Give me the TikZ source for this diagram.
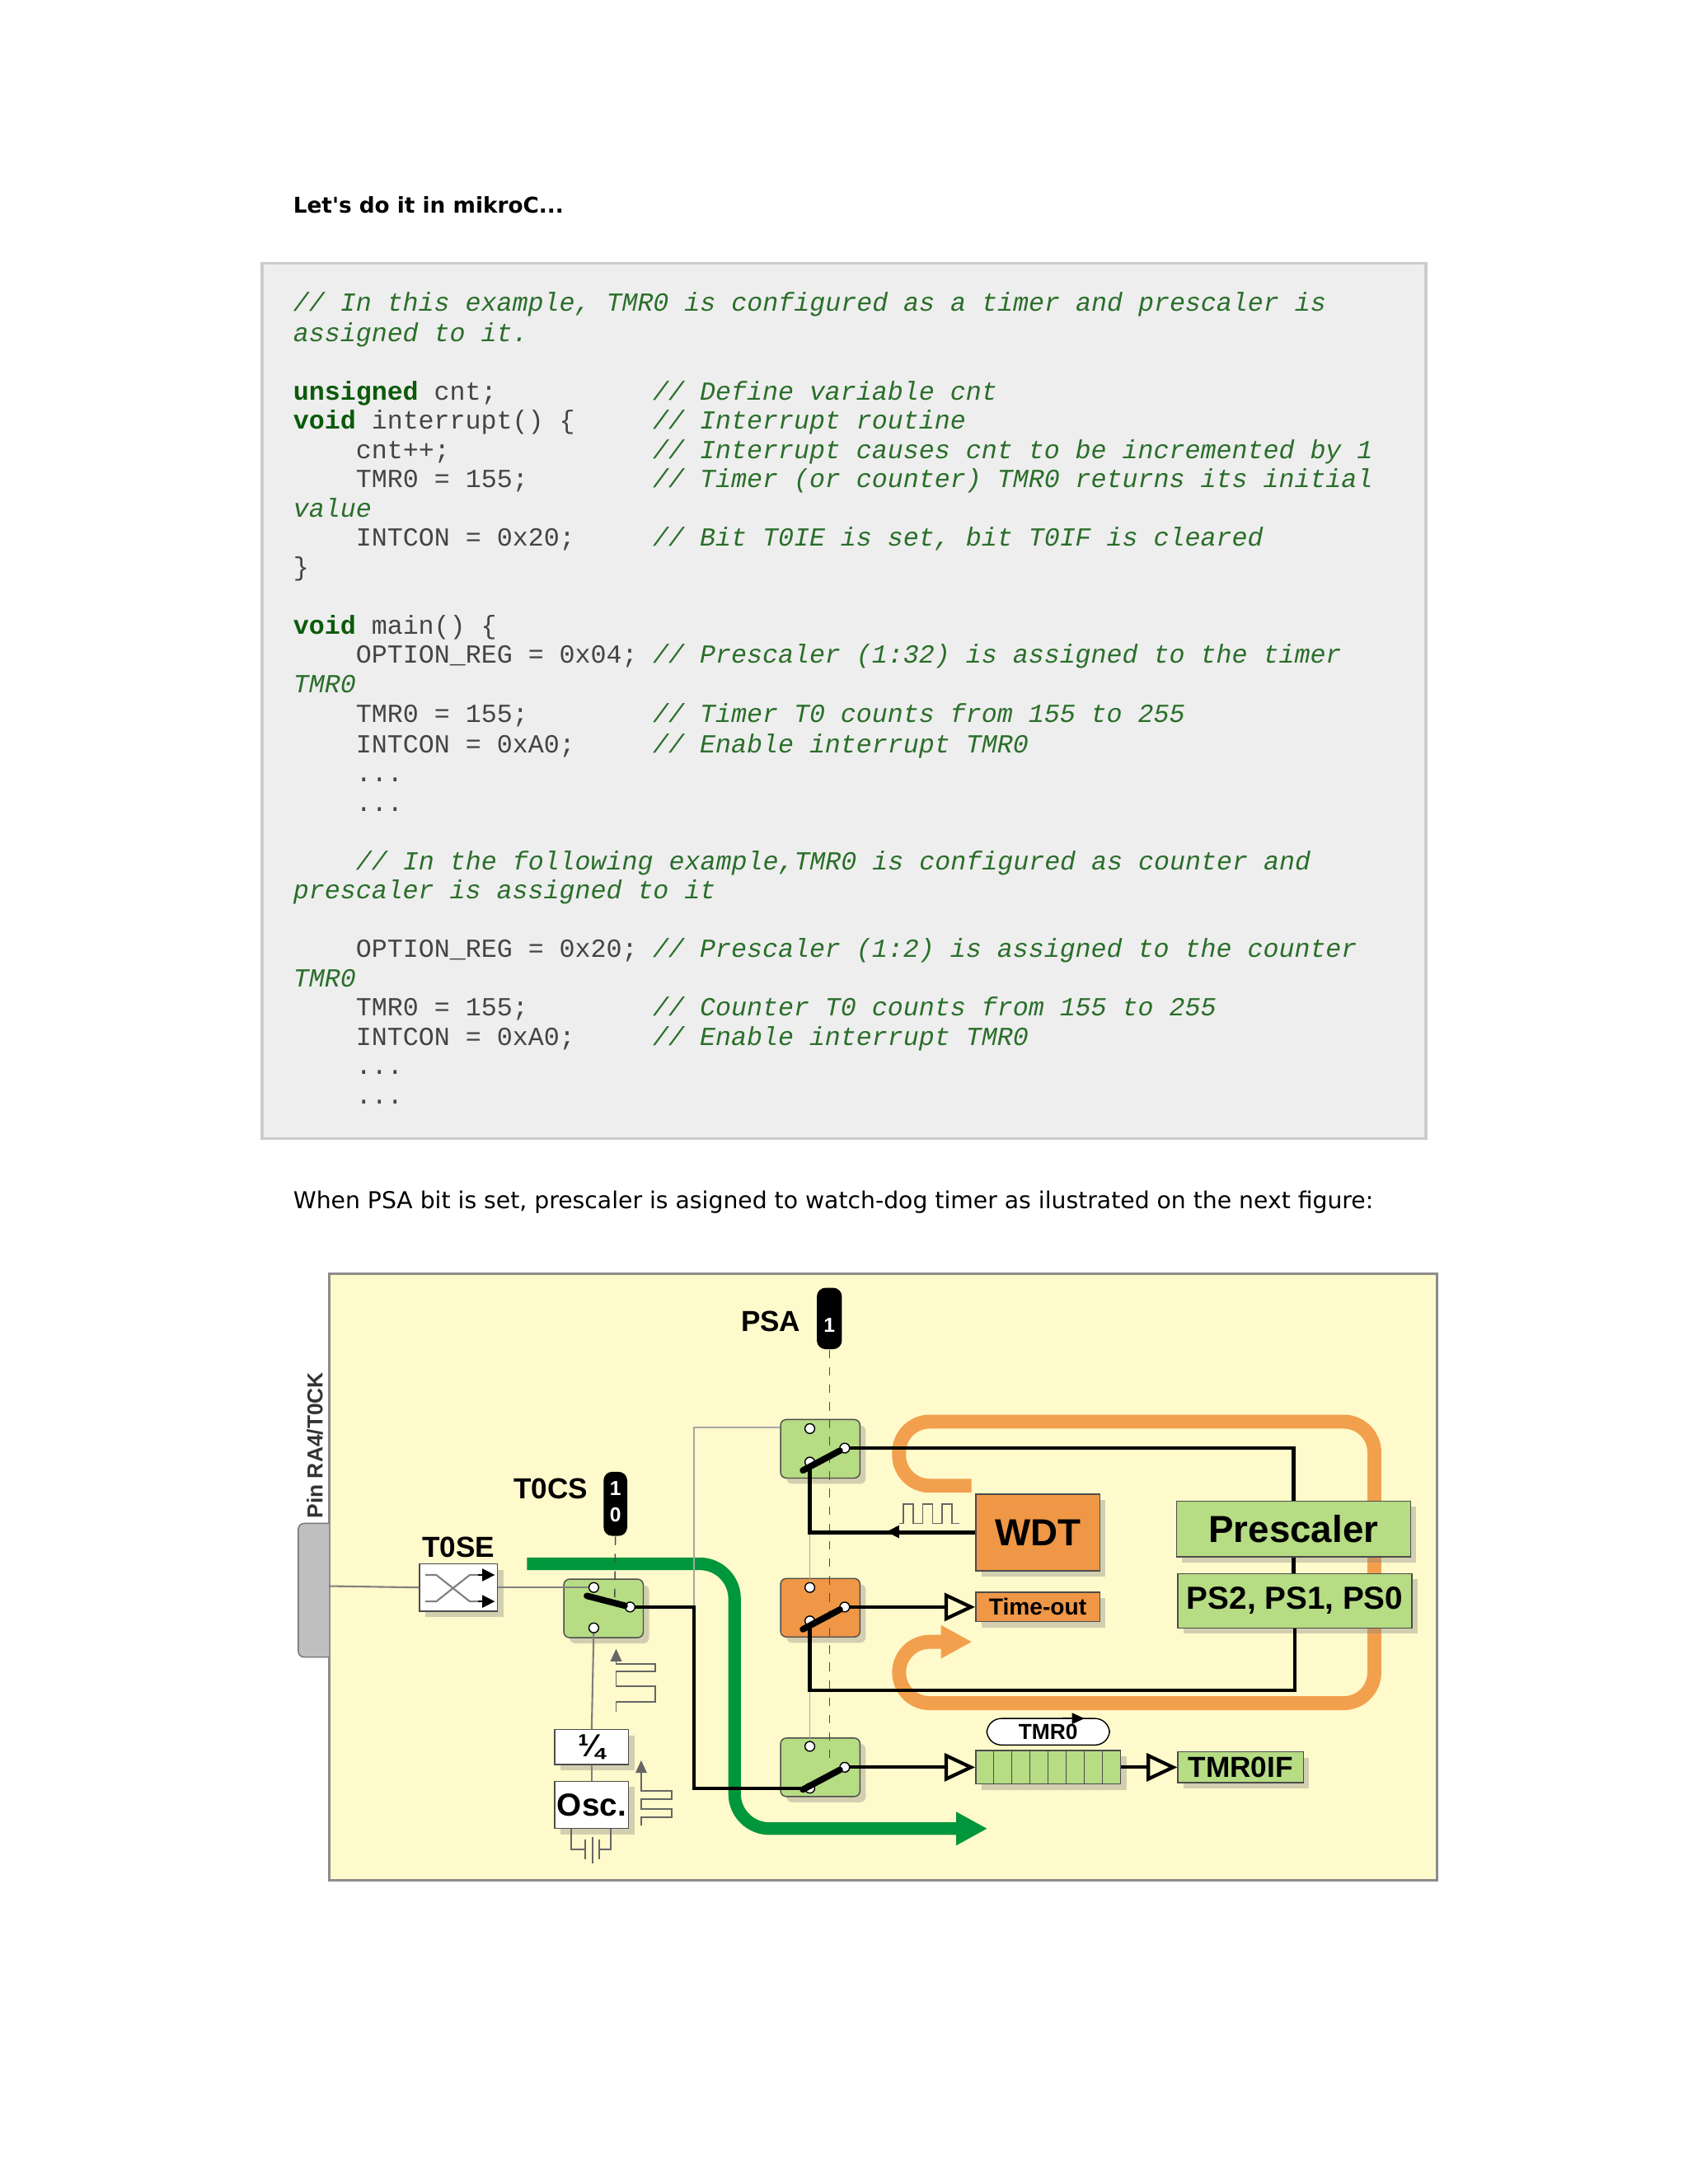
\documentclass[tikz,border=0pt]{standalone}
\usepackage{fontspec}
\usepackage{graphicx}
\usetikzlibrary{arrows.meta, positioning, shadows}
\newfontfamily\pagefont{DejaVu Sans}
\newfontfamily\diafont{Liberation Sans}
\newfontfamily\codefont{Liberation Mono}
\newcommand{\dpx}{0.016911cm}
\definecolor{codebg}{HTML}{EEEEEE}
\definecolor{cmtgreen}{HTML}{2A6E2A}
\definecolor{kwgreen}{HTML}{0A5A0A}
\definecolor{codegray}{HTML}{444444}
\definecolor{diabg}{HTML}{FFFACB}
\definecolor{boxgreen}{HTML}{B6DC84}
\definecolor{boxorange}{HTML}{EF9746}
\definecolor{flowgreen}{HTML}{00963C}
\definecolor{floworange}{HTML}{F2A04E}
\newcommand{\cmt}[1]{{\color{cmtgreen}\itshape #1}}
\newcommand{\kw}[1]{{\color{kwgreen}\bfseries #1}}
\tikzstyle{code} = [% one piece of a code line
  anchor=base west,
  inner sep=0pt,
  font=\codefont\fontsize{9}{10}\selectfont,
  text=codegray
  ]
\tikzstyle{block} = [% boxes of the diagram
  rectangle,
  draw=black!70,
  inner sep=0pt,
  font=\diafont\bfseries,
  drop shadow={shadow xshift=2pt, shadow yshift=-2pt, opacity=.35}
  ]
\tikzstyle{switch} = [% a selector switch
  block,
  rounded corners=2pt,
  minimum width=57*\dpx,
  minimum height=42*\dpx
  ]
\tikzstyle{contact} = [% switch contact
  circle,
  draw=black,
  fill=white,
  inner sep=0pt,
  minimum size=7*\dpx
  ]
\tikzstyle{pill} = [% control bit
  rectangle,
  rounded corners=3pt,
  fill=black,
  text=white,
  inner sep=0pt,
  font=\diafont\bfseries\fontsize{7}{8}\selectfont
  ]
\tikzstyle{label} = [% bit names
  font=\diafont\bfseries\fontsize{10}{12}\selectfont,
  inner sep=0pt
  ]
\tikzstyle{wire} = [% signal lines
  line width=1.2pt,
  black
  ]
\tikzstyle{thin} = [% unselected paths
  line width=0.5pt,
  black!35
  ]
\tikzstyle{buffer} = [% open triangle arrow
  wire,
  -{Triangle[open, length=22*\dpx, width=20*\dpx, line width=1.2pt]}
  ]

\begin{document}
\begin{tikzpicture}[x=\dpx, y=-\dpx]
\useasboundingbox[fill=white] (0,0) rectangle (1211,1567);

%%% Page text
\node[anchor=base west, inner sep=0pt] (title) at (210,153)
  {\resizebox{3.28cm}{!}{\pagefont\bfseries Let's do it in mikroC...}};
\node[anchor=base west, inner sep=0pt] (intro) at (210,867)
  {\resizebox{13.1cm}{!}{\pagefont When PSA bit is set, prescaler is asigned to watch-dog timer as ilustrated on the next figure:}};

%%% Code listing
\draw[fill=codebg, draw=black!20, line width=1pt] (188,189) rectangle (1023,817);
\node[code] (l1) at (210,223) {\cmt{// In this example, TMR0 is configured as a timer and prescaler is}};
\node[code] (l2) at (210,245) {\cmt{assigned to it.}};
\node[code] (l3) at (210,287) {\kw{unsigned} cnt;};
\node[code] (c3) at (468,287) {\cmt{// Define variable cnt}};
\node[code] (l4) at (210,308) {\kw{void} interrupt() \{};
\node[code] (c4) at (468,308) {\cmt{// Interrupt routine}};
\node[code] (l5) at (255,329) {cnt++;};
\node[code] (c5) at (468,329) {\cmt{// Interrupt causes cnt to be incremented by 1}};
\node[code] (l6) at (255,350) {TMR0 = 155;};
\node[code] (c6) at (468,350) {\cmt{// Timer (or counter) TMR0 returns its initial}};
\node[code] (l7) at (210,371) {\cmt{value}};
\node[code] (l8) at (255,392) {INTCON = 0x20;};
\node[code] (c8) at (468,392) {\cmt{// Bit T0IE is set, bit T0IF is cleared}};
\node[code] (l9) at (210,413) {\}};
\node[code] (l10) at (210,455) {\kw{void} main() \{};
\node[code] (l11) at (255,476) {OPTION\_REG = 0x04;};
\node[code] (c11) at (468,476) {\cmt{// Prescaler (1:32) is assigned to the timer}};
\node[code] (l12) at (210,497) {\cmt{TMR0}};
\node[code] (l13) at (255,518) {TMR0 = 155;};
\node[code] (c13) at (468,518) {\cmt{// Timer T0 counts from 155 to 255}};
\node[code] (l14) at (255,540) {INTCON = 0xA0;};
\node[code] (c14) at (468,540) {\cmt{// Enable interrupt TMR0}};
\node[code] (l15) at (255,561) {...};
\node[code] (l16) at (255,582) {...};
\node[code] (l17) at (255,624) {\cmt{// In the following example,TMR0 is configured as counter and}};
\node[code] (l18) at (210,645) {\cmt{prescaler is assigned to it}};
\node[code] (l19) at (255,687) {OPTION\_REG = 0x20;};
\node[code] (c19) at (468,687) {\cmt{// Prescaler (1:2) is assigned to the counter}};
\node[code] (l20) at (210,708) {\cmt{TMR0}};
\node[code] (l21) at (255,729) {TMR0 = 155;};
\node[code] (c21) at (468,729) {\cmt{// Counter T0 counts from 155 to 255}};
\node[code] (l22) at (255,750) {INTCON = 0xA0;};
\node[code] (c22) at (468,750) {\cmt{// Enable interrupt TMR0}};
\node[code] (l23) at (255,771) {...};
\node[code] (l24) at (255,792) {...};

%%% Diagram frame and pin
\draw[fill=diabg, draw=black!45, line width=0.8pt] (236,914) rectangle (1031,1349);
\draw[fill=black!25, draw=black!55, rounded corners=2pt] (236,1093) -- (214,1093) -- (214,1189) -- (236,1189);
\node[rotate=90, font=\diafont\bfseries\fontsize{7.5}{9}\selectfont, text=black!80, inner sep=0pt] (pin) at (226,1037) {Pin RA4/T0CK};
\coordinate (pinout) at (236,1138);

%%% Flow paths
\draw[floworange, line width=10*\dpx, rounded corners=22*\dpx] (697,1066) -- (645,1066) -- (645,1020) -- (986,1020) -- (986,1222) -- (645,1222) -- (645,1178) -- (677,1178);
\draw[floworange, -{Triangle[length=22*\dpx, width=24*\dpx]}] (675,1178) -- (697,1178);
\draw[flowgreen, line width=9*\dpx, rounded corners=25*\dpx] (378,1122) -- (527,1122) -- (527,1312) -- (688,1312);
\draw[flowgreen, -{Triangle[length=22*\dpx, width=24*\dpx]}] (686,1312) -- (708,1312);

%%% Nodes
\node[block, fill=white, minimum width=56*\dpx, minimum height=34*\dpx] (tose) at (329,1139) {};
\node[label] (toselbl) at (329,1110) {T0SE};
\node[switch, fill=boxgreen] (swT) at (433,1154) {};
\node[label] (tocslbl) at (395,1068) {T0CS};
\node[pill, minimum width=17*\dpx, minimum height=46*\dpx] (tocsbit) at (441.5,1079) {};
\node[text=white, font=\diafont\bfseries\fontsize{7}{8}\selectfont, inner sep=0pt] at (441.5,1068) {1};
\node[text=white, font=\diafont\bfseries\fontsize{7}{8}\selectfont, inner sep=0pt] at (441.5,1087) {0};
\node[block, fill=white, minimum width=53*\dpx, minimum height=25*\dpx, font=\diafont\bfseries\fontsize{11}{12}\selectfont] (quarter) at (424.5,1253.5) {¼};
\node[block, fill=white, minimum width=53*\dpx, minimum height=34*\dpx, font=\diafont\bfseries\fontsize{11}{12}\selectfont] (osc) at (424.5,1295) {Osc.};

\node[switch, fill=boxgreen] (swW) at (588.5,1039.5) {};
\node[switch, fill=boxorange] (swO) at (588.5,1153.5) {};
\node[switch, fill=boxgreen] (swR) at (588.5,1268) {};
\node[label] (psalbl) at (553,948) {PSA};
\node[pill, minimum width=18*\dpx, minimum height=44*\dpx] (psabit) at (595,946) {};
\node[text=white, font=\diafont\bfseries\fontsize{7}{8}\selectfont, inner sep=0pt] at (595,951) {1};

\node[block, fill=boxorange, minimum width=89*\dpx, minimum height=55*\dpx, font=\diafont\bfseries\fontsize{13}{14}\selectfont] (wdt) at (744.5,1099.5) {WDT};
\node[block, fill=boxorange, minimum width=89*\dpx, minimum height=21*\dpx, font=\diafont\bfseries\fontsize{8}{9}\selectfont] (tmo) at (744.5,1153) {Time-out};
\node[block, fill=boxgreen, minimum width=168*\dpx, minimum height=40*\dpx, font=\diafont\bfseries\fontsize{13}{14}\selectfont] (presc) at (928,1097) {Prescaler};
\node[block, fill=boxgreen, minimum width=168*\dpx, minimum height=39*\dpx, font=\diafont\bfseries\fontsize{11}{12}\selectfont] (psbits) at (929,1148.5) {PS2, PS1, PS0};
\node[block, fill=boxgreen, minimum width=104*\dpx, minimum height=24*\dpx] (tmr) at (752,1268) {};
\foreach \i in {1,...,7} \draw[black!70] ({700+13*\i},1256) -- ({700+13*\i},1280);
\node[draw=black, fill=white, rounded corners=5pt, minimum width=88*\dpx, minimum height=19*\dpx, inner sep=0pt, font=\diafont\bfseries\fontsize{7.5}{8}\selectfont] (tmrlbl) at (752,1242.5) {TMR0};
\node[block, fill=boxgreen, minimum width=90*\dpx, minimum height=22*\dpx, font=\diafont\bfseries\fontsize{10}{11}\selectfont] (tmrif) at (890,1268) {TMR0IF};

%%% Contacts
\node[contact] (swTa) at (426,1139) {};
\node[contact] (swTb) at (426,1168) {};
\node[contact] (swTo) at (452,1153) {};
\node[contact] (swWa) at (581,1025) {};
\node[contact] (swWb) at (581,1049) {};
\node[contact] (swWo) at (606,1039) {};
\node[contact] (swOa) at (581,1139) {};
\node[contact] (swOb) at (581,1163) {};
\node[contact] (swOo) at (606,1153) {};
\node[contact] (swRa) at (581,1253) {};
\node[contact] (swRb) at (581,1283) {};
\node[contact] (swRo) at (606,1268) {};

%%% Selector dashes
\draw[black!70, dashed] (tocsbit.south) -- (441,1150);
\draw[black!70, dashed] (psabit.south) -- (595,1262);

%%% Thin lines
\draw[black!50, line width=0.6pt] (pinout) -- (tose.west);
\draw[black!50, line width=0.6pt] (tose.east) -- (swTa);
\draw[black!50, line width=0.6pt] (swTb) -- (quarter.north);
\draw[black!50, line width=0.6pt] (quarter.south) -- (osc.north);
\draw[thin] (498,1153) -- (498,1024) -- (swW.west |- 498,1024);
\draw[thin] (581,1099) -- (swOa);
\draw[thin] (581,1213) -- (swRa);

%%% Levers
\draw[line width=2.2pt, line cap=round] (421,1145) -- (swTo);
\draw[line width=2.2pt, line cap=round] (576,1055) -- (swWo);
\draw[line width=2.2pt, line cap=round] (576,1169) -- (swOo);
\draw[line width=2.2pt, line cap=round] (576,1284) -- (swRo);

%%% Wires
\draw[wire] (swTo) -- (498,1153) -- (498,1283) -- (swRb);
\draw[wire] (swWo) -| (presc.north);
\draw[wire] (presc.south) -- (psbits.north -| presc.south);
\draw[wire] (swWb) |- (wdt.west);
\draw[wire] (swOb) -- (581,1213) -| (psbits.south);
\draw[buffer] (swOo) -- (tmo.west);
\draw[buffer] (swRo) -- (tmr.west);
\draw[buffer] (tmr.east) -- (tmrif.west);
\draw[-{Triangle[length=9*\dpx, width=9*\dpx]}] (648,1099) -- (636,1099);
\draw[-{Triangle[length=9*\dpx, width=8*\dpx]}] (762,1233) -- (778,1233);

%%% Waveforms and symbols
\draw[black!60, line width=0.5pt] (645,1093) -- (648,1093) -- (648,1079) -- (655,1079) -- (655,1093) -- (662,1093) -- (662,1079) -- (669,1079) -- (669,1093) -- (676,1093) -- (676,1079) -- (683,1079) -- (683,1093) -- (688,1093);
\draw[black!60, line width=0.5pt, -{Triangle[length=9*\dpx, width=8*\dpx]}] (442,1228) -- (442,1221) -- (470,1221) -- (470,1210) -- (442,1210) -- (442,1199) -- (470,1199) -- (470,1194) -- (442,1194) -- (442,1183);
\draw[black!60, line width=0.5pt, -{Triangle[length=9*\dpx, width=8*\dpx]}] (460,1310) -- (460,1304) -- (482,1304) -- (482,1298) -- (460,1298) -- (460,1291) -- (482,1291) -- (482,1285) -- (460,1285) -- (460,1263);
\draw[black!60, line width=0.5pt] (410,1312) -- (410,1327) -- (420,1327);
\draw[black!60, line width=0.5pt] (420,1320) -- (420,1334);
\draw[black!60, line width=0.5pt] (425,1318) -- (425,1337);
\draw[black!60, line width=0.5pt] (430,1320) -- (430,1334);
\draw[black!60, line width=0.5pt] (430,1327) -- (438,1327) -- (438,1312);
\draw[black!50, line width=0.6pt] (305,1130) -- (313,1130) -- (337,1149) -- (345,1149);
\draw[black!50, line width=0.6pt] (305,1149) -- (313,1149) -- (337,1130) -- (345,1130);
\draw[-{Triangle[length=9*\dpx, width=9*\dpx]}] (343,1130) -- (355,1130);
\draw[-{Triangle[length=9*\dpx, width=9*\dpx]}] (343,1149) -- (355,1149);

\end{tikzpicture}
\end{document}
